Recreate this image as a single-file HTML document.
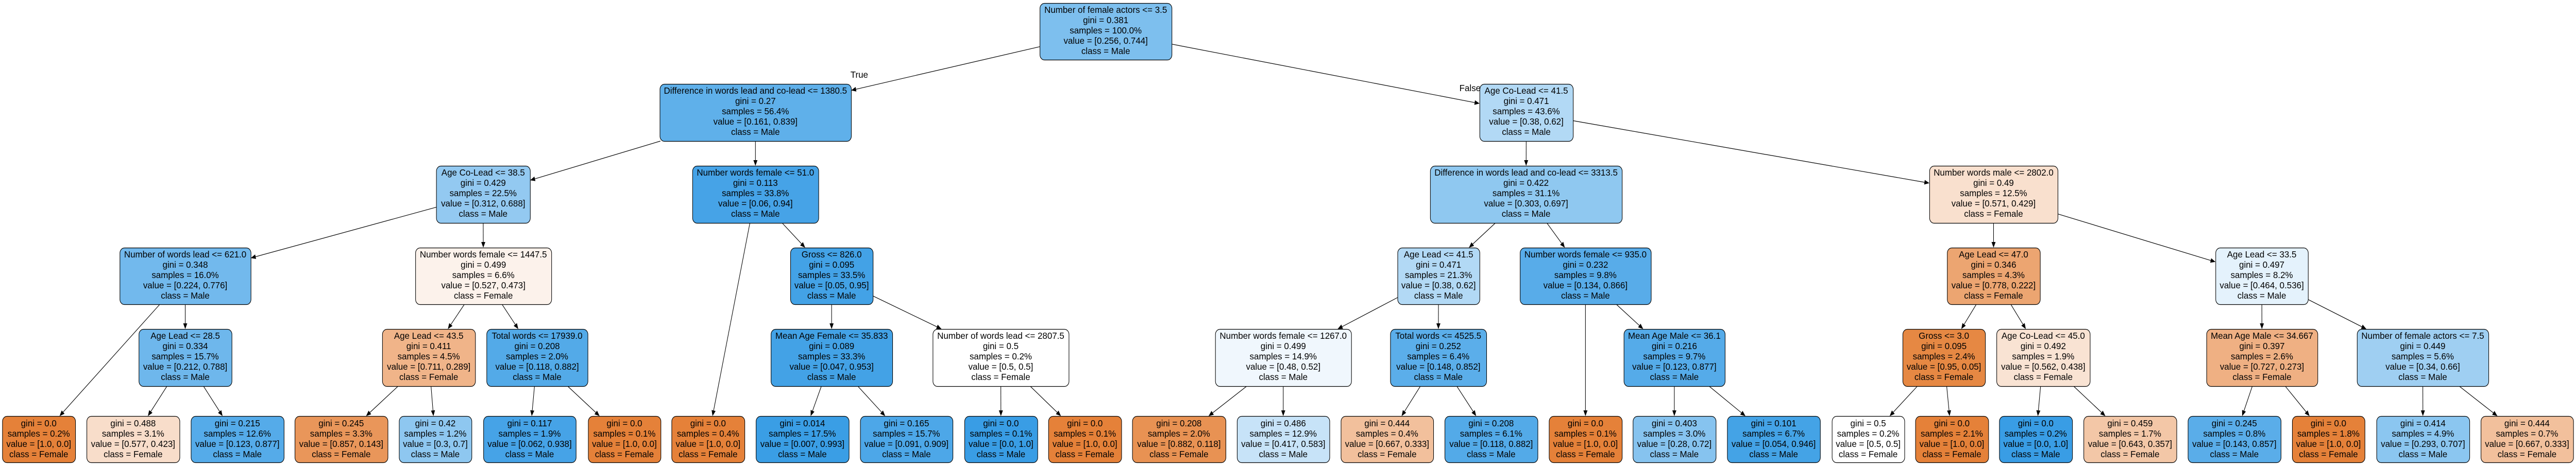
<!DOCTYPE html>
<html><head><meta charset="utf-8"><style>
html,body{margin:0;padding:0;background:#fff;width:100%;height:100%;overflow:hidden;}
svg{display:block;width:100vw;height:100vh;}
text{font-family:"Liberation Sans",Arial,sans-serif;font-size:17.5px;fill:#000;}
</style></head><body>
<svg id="s" viewBox="0 0 5681 905" preserveAspectRatio="none" xmlns="http://www.w3.org/2000/svg"></svg>
<script>
var LV=[[6,116],[163,274],[322,433],[481,591],[639,750],[808,898]];
var N=[
["R",2293,2584,0,"Number of female actors <= 3.5","0.381","100.0%","0.256","0.744",null],
["A",1455,1877,1,"Difference in words lead and co-lead <= 1380.5","0.27","56.4%","0.161","0.839","R"],
["B",3263,3469,1,"Age Co-Lead <= 41.5","0.471","43.6%","0.38","0.62","R"],
["A1",962,1169,2,"Age Co-Lead <= 38.5","0.429","22.5%","0.312","0.688","A"],
["A2",1527,1805,2,"Number words female <= 51.0","0.113","33.8%","0.06","0.94","A"],
["A11",264,553,3,"Number of words lead <= 621.0","0.348","16.0%","0.224","0.776","A1"],
["A12",916,1216,3,"Number words female <= 1447.5","0.499","6.6%","0.527","0.473","A1"],
["L1",5,166,5,null,"0.0","0.2%","1.0","0.0","A11"],
["A111",306,511,4,"Age Lead <= 28.5","0.334","15.7%","0.212","0.788","A11"],
["L2",191,396,5,null,"0.488","3.1%","0.577","0.423","A111"],
["L3",421,626,5,null,"0.215","12.6%","0.123","0.877","A111"],
["A121",843,1048,4,"Age Lead <= 43.5","0.411","4.5%","0.711","0.289","A12"],
["A122",1073,1296,4,"Total words <= 17939.0","0.208","2.0%","0.118","0.882","A12"],
["L4",650,855,5,null,"0.245","3.3%","0.857","0.143","A121"],
["L5",880,1040,5,null,"0.42","1.2%","0.3","0.7","A121"],
["L6",1066,1270,5,null,"0.117","1.9%","0.062","0.938","A122"],
["L7",1297,1457,5,null,"0.0","0.1%","1.0","0.0","A122"],
["L8",1481,1642,5,null,"0.0","0.4%","1.0","0.0","A2"],
["A22",1743,1925,3,"Gross <= 826.0","0.095","33.5%","0.05","0.95","A2"],
["A221",1700,1968,4,"Mean Age Female <= 35.833","0.089","33.3%","0.047","0.953","A22"],
["A222",2057,2357,4,"Number of words lead <= 2807.5","0.5","0.2%","0.5","0.5","A22"],
["L9",1667,1872,5,null,"0.014","17.5%","0.007","0.993","A221"],
["L10",1897,2101,5,null,"0.165","15.7%","0.091","0.909","A221"],
["L11",2127,2288,5,null,"0.0","0.1%","0.0","1.0","A222"],
["L12",2312,2473,5,null,"0.0","0.1%","1.0","0.0","A222"],
["B1",3154,3577,2,"Difference in words lead and co-lead <= 3313.5","0.422","31.1%","0.303","0.697","B"],
["B2",4255,4538,2,"Number words male <= 2802.0","0.49","12.5%","0.571","0.429","B"],
["B11",3082,3263,3,"Age Lead <= 41.5","0.471","21.3%","0.38","0.62","B1"],
["B12",3352,3641,3,"Number words female <= 935.0","0.232","9.8%","0.134","0.866","B1"],
["B111",2680,2980,4,"Number words female <= 1267.0","0.499","14.9%","0.48","0.52","B11"],
["B112",3066,3278,4,"Total words <= 4525.5","0.252","6.4%","0.148","0.852","B11"],
["L13",2497,2703,5,null,"0.208","2.0%","0.882","0.118","B111"],
["L14",2728,2932,5,null,"0.486","12.9%","0.417","0.583","B111"],
["L15",2957,3161,5,null,"0.444","0.4%","0.667","0.333","B112"],
["L16",3186,3391,5,null,"0.208","6.1%","0.118","0.882","B112"],
["L17",3416,3577,5,null,"0.0","0.1%","1.0","0.0","B12"],
["B122",3581,3804,4,"Mean Age Male <= 36.1","0.216","9.7%","0.123","0.877","B12"],
["L18",3601,3784,5,null,"0.403","3.0%","0.28","0.72","B122"],
["L19",3809,4014,5,null,"0.101","6.7%","0.054","0.946","B122"],
["B21",4294,4499,3,"Age Lead <= 47.0","0.346","4.3%","0.778","0.222","B2"],
["B22",4886,5090,3,"Age Lead <= 33.5","0.497","8.2%","0.464","0.536","B2"],
["B211",4196,4378,4,"Gross <= 3.0","0.095","2.4%","0.95","0.05","B21"],
["B212",4403,4609,4,"Age Co-Lead <= 45.0","0.492","1.9%","0.562","0.438","B21"],
["L20",4040,4200,5,null,"0.5","0.2%","0.5","0.5","B211"],
["L21",4224,4385,5,null,"0.0","2.1%","1.0","0.0","B211"],
["L22",4409,4570,5,null,"0.0","0.2%","0.0","1.0","B212"],
["L23",4595,4800,5,null,"0.459","1.7%","0.643","0.357","B212"],
["B221",4866,5111,4,"Mean Age Male <= 34.667","0.397","2.6%","0.727","0.273","B22"],
["B222",5198,5488,4,"Number of female actors <= 7.5","0.449","5.6%","0.34","0.66","B22"],
["L24",4825,5030,5,null,"0.245","0.8%","0.143","0.857","B221"],
["L25",5055,5215,5,null,"0.0","1.8%","1.0","0.0","B221"],
["L26",5241,5446,5,null,"0.414","4.9%","0.293","0.707","B222"],
["L27",5471,5675,5,null,"0.444","0.7%","0.667","0.333","B222"]
];
var M={};N.forEach(function(n){M[n[0]]={x1:n[1],x2:n[2],y1:LV[n[3]][0],y2:LV[n[3]][1]};});
function col(a,b){a=+a;b=+b;var F=[229,129,57],Ma=[57,157,229];var c,hi,lo;
 if(a>=b){c=F;hi=a;lo=b;}else{c=Ma;hi=b;lo=a;}
 var al=(hi-lo)/(1-lo);if(!isFinite(al))al=0;
 return "rgb("+c.map(function(v){return Math.round(al*v+(1-al)*255);}).join(",")+")";}
function clip(r,cx,cy,dx,dy){
 var hw=(r.x2-r.x1)/2,hh=(r.y2-r.y1)/2;var tx=dx?hw/Math.abs(dx):1e9,ty=dy?hh/Math.abs(dy):1e9;var t=Math.min(tx,ty);
 return [cx+dx*t,cy+dy*t];}
var out="";
N.forEach(function(n){if(!n[9])return;var p=M[n[9]],c=M[n[0]];
 var pcx=(p.x1+p.x2)/2,pcy=(p.y1+p.y2)/2,ccx=(c.x1+c.x2)/2,ccy=(c.y1+c.y2)/2;
 var dx=ccx-pcx,dy=ccy-pcy;
 var s=clip(p,pcx,pcy,dx,dy),e=clip(c,ccx,ccy,-dx,-dy);
 var L=Math.hypot(e[0]-s[0],e[1]-s[1]),ux=(e[0]-s[0])/L,uy=(e[1]-s[1])/L;
 var bx=e[0]-ux*11,by=e[1]-uy*11,px=-uy*4.5,py=ux*4.5;
 out+='<line x1="'+s[0]+'" y1="'+s[1]+'" x2="'+bx+'" y2="'+by+'" stroke="#000" stroke-width="1.2"/>';
 out+='<polygon points="'+e[0]+','+e[1]+' '+(bx+px)+','+(by+py)+' '+(bx-px)+','+(by-py)+'" fill="#000"/>';
});
N.forEach(function(n){var r=M[n[0]];var cx=(r.x1+r.x2)/2;
 out+='<rect x="'+(r.x1+0.5)+'" y="'+(r.y1+0.5)+'" width="'+(r.x2-r.x1)+'" height="'+(r.y2-r.y1)+'" rx="10" ry="10" fill="'+col(n[7],n[8])+'" stroke="#000" stroke-width="1.2"/>';
 var lines=[];if(n[4])lines.push(n[4]);
 lines.push("gini = "+n[5]);lines.push("samples = "+n[6]);lines.push("value = ["+n[7]+", "+n[8]+"]");
 lines.push("class = "+((+n[7])>=(+n[8])?"Female":"Male"));
 var y0=r.y1+(n[4]?13:14);
 lines.forEach(function(t,i){t=t.replace(/&/g,"&amp;").replace(/</g,"&lt;");
  out+='<text transform="translate('+cx+','+(y0+20*i+6)+') scale(1.1,1)" text-anchor="middle">'+t+'</text>';});
});
out+='<text transform="translate(1895,151) scale(1.1,1)" text-anchor="middle">True</text>';
out+='<text transform="translate(3242,177) scale(1.1,1)" text-anchor="middle">False</text>';
document.getElementById("s").innerHTML=out;
</script>
</body></html>
